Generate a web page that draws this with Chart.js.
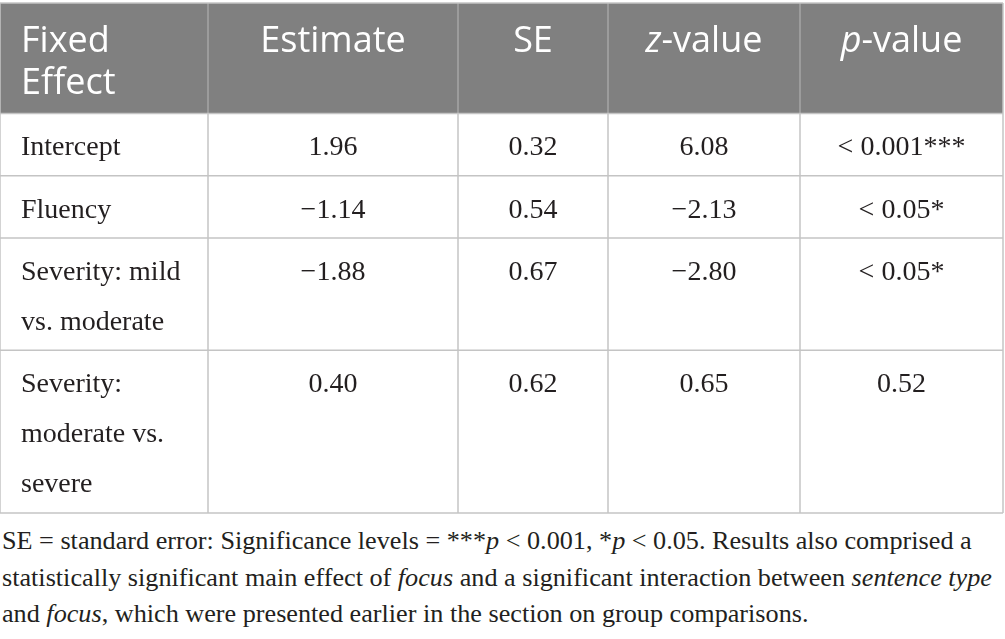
<!DOCTYPE html>
<html>
<head>
<meta charset="utf-8">
<script src="https://cdn.jsdelivr.net/npm/chart.js@4/dist/chart.umd.min.js"></script>
<style>
  html, body { margin: 0; padding: 0; background: #fff; }
  #wrap { position: relative; width: 1005px; height: 639px; overflow: hidden; }
  #box { position: absolute; left: 0; top: 0; width: 1005px; height: 515px; }
  #note {
    position: absolute; left: 2px; top: 523px; width: 1000px;
    font-family: "Liberation Serif", serif; font-size: 26.2px; line-height: 36.5px;
    color: #231f20; white-space: nowrap;
  }
</style>
</head>
<body>
<div id="wrap">
  <div id="box"><canvas id="tableChart"></canvas></div>
  <div id="note">SE = standard error: Significance levels = ***<i>p</i> &lt; 0.001, *<i>p</i> &lt; 0.05. Results also comprised a<br>statistically significant main effect of <i>focus</i> and a significant interaction between <i>sentence type</i><br>and <i>focus</i>, which were presented earlier in the section on group comparisons.</div>
</div>
<script>
// table content (_x_ marks italic)
var headers = ['Fixed Effect', 'Estimate', 'SE', '_z_-value', '_p_-value'];
var effects = ['Intercept', 'Fluency', 'Severity: mild vs. moderate', 'Severity: moderate vs. severe'];
var estimates = [1.96, -1.14, -1.88, 0.40];
var stdErrors = [0.32, 0.54, 0.67, 0.62];
var zValues = [6.08, -2.13, -2.80, 0.65];
var pValues = ['< 0.001***', '< 0.05*', '< 0.05*', '0.52'];

// layout
var colWidths = [208, 250, 150, 192, 203];
var headFont = '36px "Open Sans"';
var headItalic = 'italic 36px "Open Sans"';
var bodyFont = '28px "Liberation Serif"';
var cellPad = 21;
var headLine = 42, headHeight = 110, headBase = 49;
var bodyLine = 50, bodyExtra = 12, bodyBase = 42;

function fmt(v) {
    return v.toFixed(2).replace('-', '\u2212');
}

var measureCtx = document.createElement('canvas').getContext('2d');
function wrap(text, font, maxW) {
    measureCtx.font = font;
    var words = text.split(' '), lines = [], cur = '';
    words.forEach(function (w) {
        var t = cur ? cur + ' ' + w : w;
        if (cur && measureCtx.measureText(t.replace(/_/g, '')).width > maxW) {
            lines.push(cur);
            cur = w;
        } else {
            cur = t;
        }
    });
    lines.push(cur);
    return lines;
}

var rows = effects.map(function (e, i) {
    return [e, fmt(estimates[i]), fmt(stdErrors[i]), fmt(zValues[i]), pValues[i]];
});
var headLines = headers.map(function (h, c) {
    return wrap(h, headFont, colWidths[c] - 2 * cellPad);
});
var rowLines = rows.map(function (r) {
    return r.map(function (t, c) { return wrap(t, bodyFont, colWidths[c] - 2 * cellPad); });
});
var rowHeights = rowLines.map(function (r) {
    var n = Math.max.apply(null, r.map(function (l) { return l.length; }));
    return bodyExtra + bodyLine * n;
});

var colEdges = [0];
colWidths.forEach(function (w) { colEdges.push(colEdges[colEdges.length - 1] + w); });
var rowEdges = [0, headHeight];
rowHeights.forEach(function (h) { rowEdges.push(rowEdges[rowEdges.length - 1] + h); });

// draw a line of text where _x_ marks italic parts
function drawRich(ctx, text, x, y, align, font, italic) {
    var parts = text.split('_');
    var segs = [], total = 0;
    parts.forEach(function (p, k) {
        if (!p) return;
        var f = (k % 2 === 1) ? italic : font;
        ctx.font = f;
        var w = ctx.measureText(p).width;
        segs.push({ t: p, f: f, w: w });
        total += w;
    });
    var sx = align === 'center' ? x - total / 2 : x;
    segs.forEach(function (s) {
        ctx.font = s.f;
        ctx.fillText(s.t, sx, y);
        sx += s.w;
    });
}

var tablePlugin = {
    id: 'tableCells',
    afterDraw: function (chart) {
        var ctx = chart.ctx;
        var xs = chart.scales.x, ys = chart.scales.y;
        var px = colEdges.map(function (v) { return xs.getPixelForValue(v); });
        var py = rowEdges.map(function (v) { return ys.getPixelForValue(v); });
        ctx.save();
        ctx.textBaseline = 'alphabetic';

        // header band
        ctx.fillStyle = '#808080';
        ctx.fillRect(px[0], py[0], px[px.length - 1] - px[0], py[1] - py[0]);
        ctx.fillStyle = '#ffffff';
        headLines.forEach(function (lines, c) {
            var align = c === 0 ? 'left' : 'center';
            var x = c === 0 ? px[c] + cellPad : (px[c] + px[c + 1]) / 2;
            lines.forEach(function (l, k) {
                drawRich(ctx, l, x, py[0] + headBase + k * headLine, align, headFont, headItalic);
            });
        });

        // body cells
        ctx.fillStyle = '#231f20';
        rowLines.forEach(function (r, i) {
            r.forEach(function (lines, c) {
                var align = c === 0 ? 'left' : 'center';
                var x = c === 0 ? px[c] + cellPad : (px[c] + px[c + 1]) / 2;
                lines.forEach(function (l, k) {
                    drawRich(ctx, l, x, py[i + 1] + bodyBase + k * bodyLine, align, bodyFont, bodyFont);
                });
            });
        });

        // grid lines
        ctx.lineWidth = 1.5;
        ctx.strokeStyle = '#a6a6a6';
        for (var c = 1; c < px.length - 1; c++) {
            ctx.beginPath();
            ctx.moveTo(px[c], py[0]);
            ctx.lineTo(px[c], py[1]);
            ctx.stroke();
        }
        ctx.strokeStyle = '#c4c4c4';
        for (var c2 = 0; c2 < px.length; c2++) {
            ctx.beginPath();
            ctx.moveTo(px[c2], c2 === 0 || c2 === px.length - 1 ? py[0] : py[1]);
            ctx.lineTo(px[c2], py[py.length - 1]);
            ctx.stroke();
        }
        for (var r = 0; r < py.length; r++) {
            ctx.beginPath();
            ctx.moveTo(px[0], py[r]);
            ctx.lineTo(px[px.length - 1], py[r]);
            ctx.stroke();
        }
        ctx.restore();
    }
};

var tableChart = new Chart(document.getElementById('tableChart'), {
    type: 'scatter',
    data: { datasets: [{ data: [], pointRadius: 0 }] },
    options: {
        responsive: true,
        maintainAspectRatio: false,
        animation: false,
        events: [],
        layout: { padding: { top: 3, left: 0, right: 2, bottom: 2 } },
        plugins: { legend: { display: false }, tooltip: { enabled: false } },
        scales: {
            x: { type: 'linear', display: false, min: 0, max: colEdges[colEdges.length - 1] },
            y: { type: 'linear', display: false, reverse: true, min: 0, max: rowEdges[rowEdges.length - 1] }
        }
    },
    plugins: [tablePlugin]
});
</script>
</body>
</html>
